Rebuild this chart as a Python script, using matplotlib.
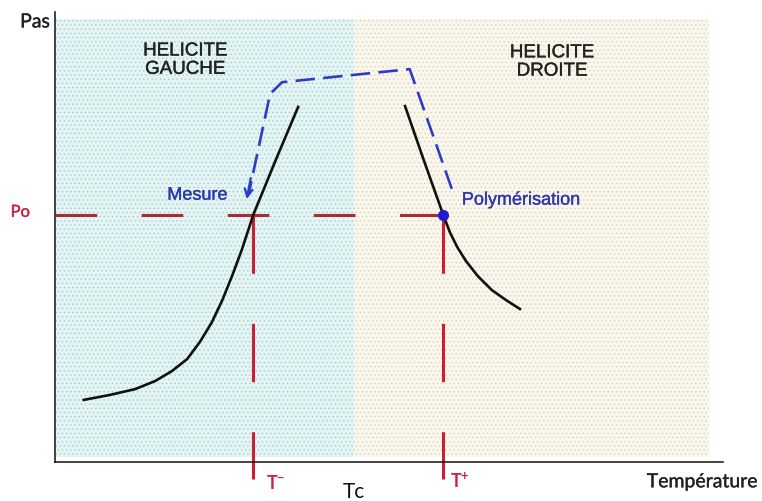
import matplotlib
matplotlib.use("Agg")
import matplotlib.pyplot as plt
import matplotlib.patheffects as pe

plt.rcParams['lines.scale_dashes'] = False
plt.rcParams['hatch.linewidth'] = 0.4

# reference points (arbitrary units)
T_minus = 2.97
T_plus = 5.81
T_c = 4.47
P_o = 5.5

# pitch vs temperature, left-handed branch
left_T = [0.43, 0.82, 1.20, 1.50, 1.75, 1.98, 2.17, 2.35, 2.50, 2.65, 2.80, 2.97, 3.31, 3.64]
left_P = [1.38, 1.49, 1.62, 1.80, 2.02, 2.29, 2.67, 3.11, 3.58, 4.13, 4.73, 5.50, 6.73, 7.89]

# right-handed branch
right_T = [5.24, 5.52, 5.81, 5.91, 6.02, 6.15, 6.33, 6.54, 6.75, 6.96]
right_P = [7.91, 6.71, 5.50, 5.11, 4.78, 4.47, 4.13, 3.82, 3.60, 3.40]

# path from polymerisation to measurement
path_T = [5.94, 5.31, 3.40, 3.22, 2.90]
path_P = [6.07, 8.73, 8.44, 8.18, 5.96]
arrow_tip = (2.87, 5.84)

shade_bottom = 0.11
shade_top = 9.84
shade_right = 9.79
tick_bottom = -0.38

fig = plt.figure(figsize=(7.62, 5.02), dpi=100)
ax = fig.add_axes([55 / 762, 39 / 502, 668 / 762, 450 / 502])
ax.set_xlim(0, 10)
ax.set_ylim(0, 10)
for s in ['top', 'right']:
    ax.spines[s].set_visible(False)
for s in ['left', 'bottom']:
    ax.spines[s].set_linewidth(1.1)
    ax.spines[s].set_color('#111111')
ax.set_xticks([])
ax.set_yticks([])

# the two helicity domains
ax.fill_between([0, T_c], shade_bottom, shade_top, facecolor='#e2f4f4',
                edgecolor='#a9c4c4', hatch='....', linewidth=0, zorder=0)
ax.fill_between([T_c, shade_right], shade_bottom, shade_top, facecolor='#f9f6ec',
                edgecolor='#d6cdb6', hatch='....', linewidth=0, zorder=0)

# reference dashes
red_h = '#a82c34'
red_v = '#cc1f35'
ax.plot([0, T_plus], [P_o, P_o], color=red_h, lw=2.2, dashes=(30, 32),
        dash_capstyle='butt', zorder=2)
for t in (T_minus, T_plus):
    ax.plot([t, t], [P_o, tick_bottom], color=red_v, lw=2.2, dashes=(42, 36),
            dash_capstyle='butt', clip_on=False, zorder=2)

ax.plot(left_T, left_P, color='#111111', lw=1.9, solid_joinstyle='round', zorder=3)
ax.plot(right_T, right_P, color='#111111', lw=1.9, solid_joinstyle='round', zorder=3)

blue = '#2b3cc8'
ax.plot(path_T, path_P, color=blue, lw=1.9, dashes=(14, 6), zorder=4)
ax.annotate('', xy=arrow_tip, xytext=(path_T[-1] + 0.03, path_P[-1] + 0.35),
            arrowprops=dict(arrowstyle='->', color=blue, lw=1.6,
                            mutation_scale=14, shrinkA=0, shrinkB=0), zorder=4)
ax.plot([T_plus], [P_o], 'o', color='#1f1fd0', markersize=7, zorder=5)


def heavy(color, w=0.25):
    return [pe.withStroke(linewidth=w, foreground=color)]


sans = 'Liberation Sans'
label_font = 'Lato'
ax.text(1.95, 8.93, 'HELICITE\nGAUCHE', ha='center', va='center', fontsize=13.5,
        family=sans, color='#222222', linespacing=1.1, path_effects=heavy('#222222'))
ax.text(7.44, 8.89, 'HELICITE\nDROITE', ha='center', va='center', fontsize=13.5,
        family=sans, color='#222222', linespacing=1.1, path_effects=heavy('#222222'))
ax.text(2.13, 5.93, 'Mesure', ha='center', va='center', fontsize=13,
        family=sans, color='#2c3aa8', path_effects=heavy('#2c3aa8'))
ax.text(6.09, 5.82, 'Polymérisation', ha='left', va='center', fontsize=13,
        family=sans, color='#3038b0', path_effects=heavy('#3038b0'))

ax.text(-0.075, 9.78, 'Pas', ha='right', va='center', fontsize=14,
        family=label_font, color='#222222', clip_on=False, path_effects=heavy('#222222'))
ax.text(-0.52, 5.56, 'Po', ha='center', va='center', fontsize=12,
        family=label_font, color='#d02040', clip_on=False, path_effects=heavy('#d02040'))
ax.text(3.31, -0.44, r'$\mathregular{T^{-}}$', ha='center', va='center', fontsize=13,
        family=label_font, color='#d02040', fontweight='bold', clip_on=False)
ax.text(6.06, -0.40, r'$\mathregular{T^{+}}$', ha='center', va='center', fontsize=13,
        family=label_font, color='#d02040', fontweight='bold', clip_on=False)
ax.text(T_c, -0.64, 'Tc', ha='center', va='center', fontsize=15,
        family=label_font, color='#111111', clip_on=False)
ax.text(10.52, -0.44, 'Température', ha='right', va='center', fontsize=14,
        family=label_font, color='#222222', clip_on=False, path_effects=heavy('#222222'))

plt.savefig('out.png', dpi=100)
